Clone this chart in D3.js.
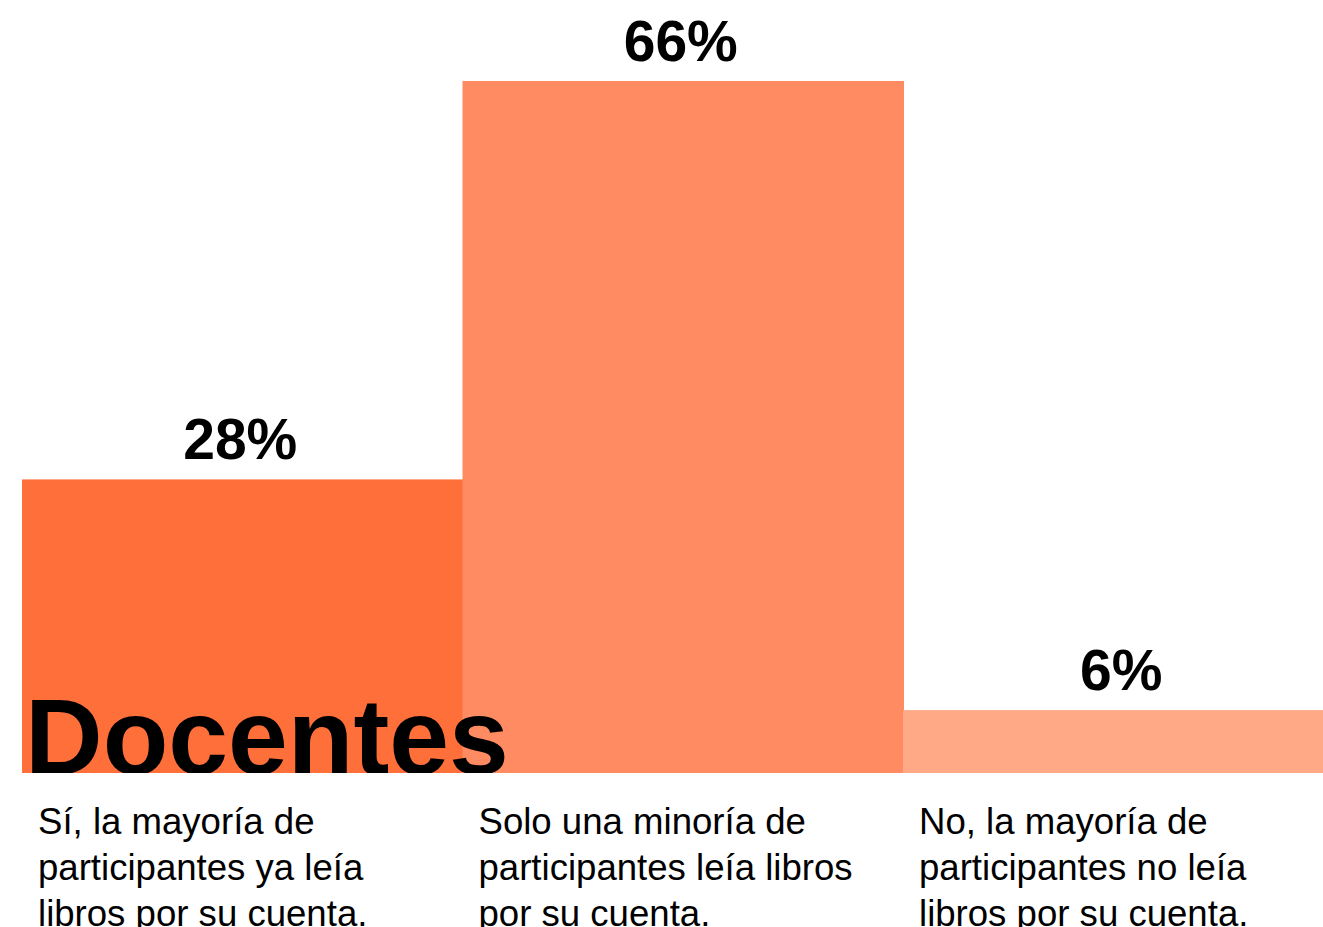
<!DOCTYPE html>
<html>
<head>
<meta charset="utf-8">
<script src="https://cdn.jsdelivr.net/npm/d3@7"></script>
<style>
  html, body { margin: 0; padding: 0; background: #fff; overflow: hidden; }
  svg { display: block; font-family: "Liberation Sans", Arial, Helvetica, sans-serif; }
</style>
</head>
<body>
<svg></svg>
<script>
const categories = ["si", "minoria", "no"];
const values = [28, 66, 6];
const labels = [
  ["Sí, la mayoría de", "participantes ya leía", "libros por su cuenta."],
  ["Solo una minoría de", "participantes leía libros", "por su cuenta."],
  ["No, la mayoría de", "participantes no leía", "libros por su cuenta."]
];
const colors = ["#ff6f3a", "#ff8b63", "#ffa986"];
const title = "Docentes";

const width = 1323, height = 927;
const baseline = 773;

const svg = d3.select("svg")
    .attr("width", width)
    .attr("height", height);

const xScale = d3.scaleBand()
    .domain(categories)
    .range([22, 22 + 3 * 440.5])
    .padding(0);

const yScale = d3.scaleLinear()
    .domain([0, 100])
    .range([baseline, baseline - 1048.5]);

// each bar runs 1px under its right neighbour so no seam shows
svg.selectAll("rect.bar")
    .data(values)
  .enter().append("rect")
    .attr("class", "bar")
    .attr("x", (d, i) => xScale(categories[i]))
    .attr("y", d => yScale(d))
    .attr("width", xScale.bandwidth() + 1)
    .attr("height", d => yScale(0) - yScale(d))
    .attr("fill", (d, i) => colors[i]);

svg.selectAll("text.value")
    .data(values)
  .enter().append("text")
    .attr("class", "value")
    .attr("x", (d, i) => xScale(categories[i]) + xScale.bandwidth() / 2 - 2)
    .attr("y", d => yScale(d) - 20)
    .attr("text-anchor", "middle")
    .attr("font-size", 57)
    .attr("font-weight", "bold")
    .attr("fill", "#000")
    .text(d => d + "%");

// title sits on the baseline, clipped at the bottom of the bars
svg.append("clipPath")
    .attr("id", "titleClip")
  .append("rect")
    .attr("x", 0).attr("y", 0)
    .attr("width", width).attr("height", baseline);

svg.append("text")
    .attr("x", 25)
    .attr("y", baseline + 1)
    .attr("clip-path", "url(#titleClip)")
    .attr("font-size", 107.5)
    .attr("font-weight", "bold")
    .attr("fill", "#000")
    .text(title);

const labelG = svg.selectAll("text.label")
    .data(labels)
  .enter().append("text")
    .attr("class", "label")
    .attr("x", (d, i) => xScale(categories[i]) + 16)
    .attr("y", 834)
    .attr("font-size", 36.6)
    .attr("fill", "#000");

labelG.selectAll("tspan")
    .data(d => d)
  .enter().append("tspan")
    .attr("x", function() { return d3.select(this.parentNode).attr("x"); })
    .attr("dy", (d, i) => i === 0 ? 0 : 46)
    .text(d => d);
</script>
</body>
</html>
